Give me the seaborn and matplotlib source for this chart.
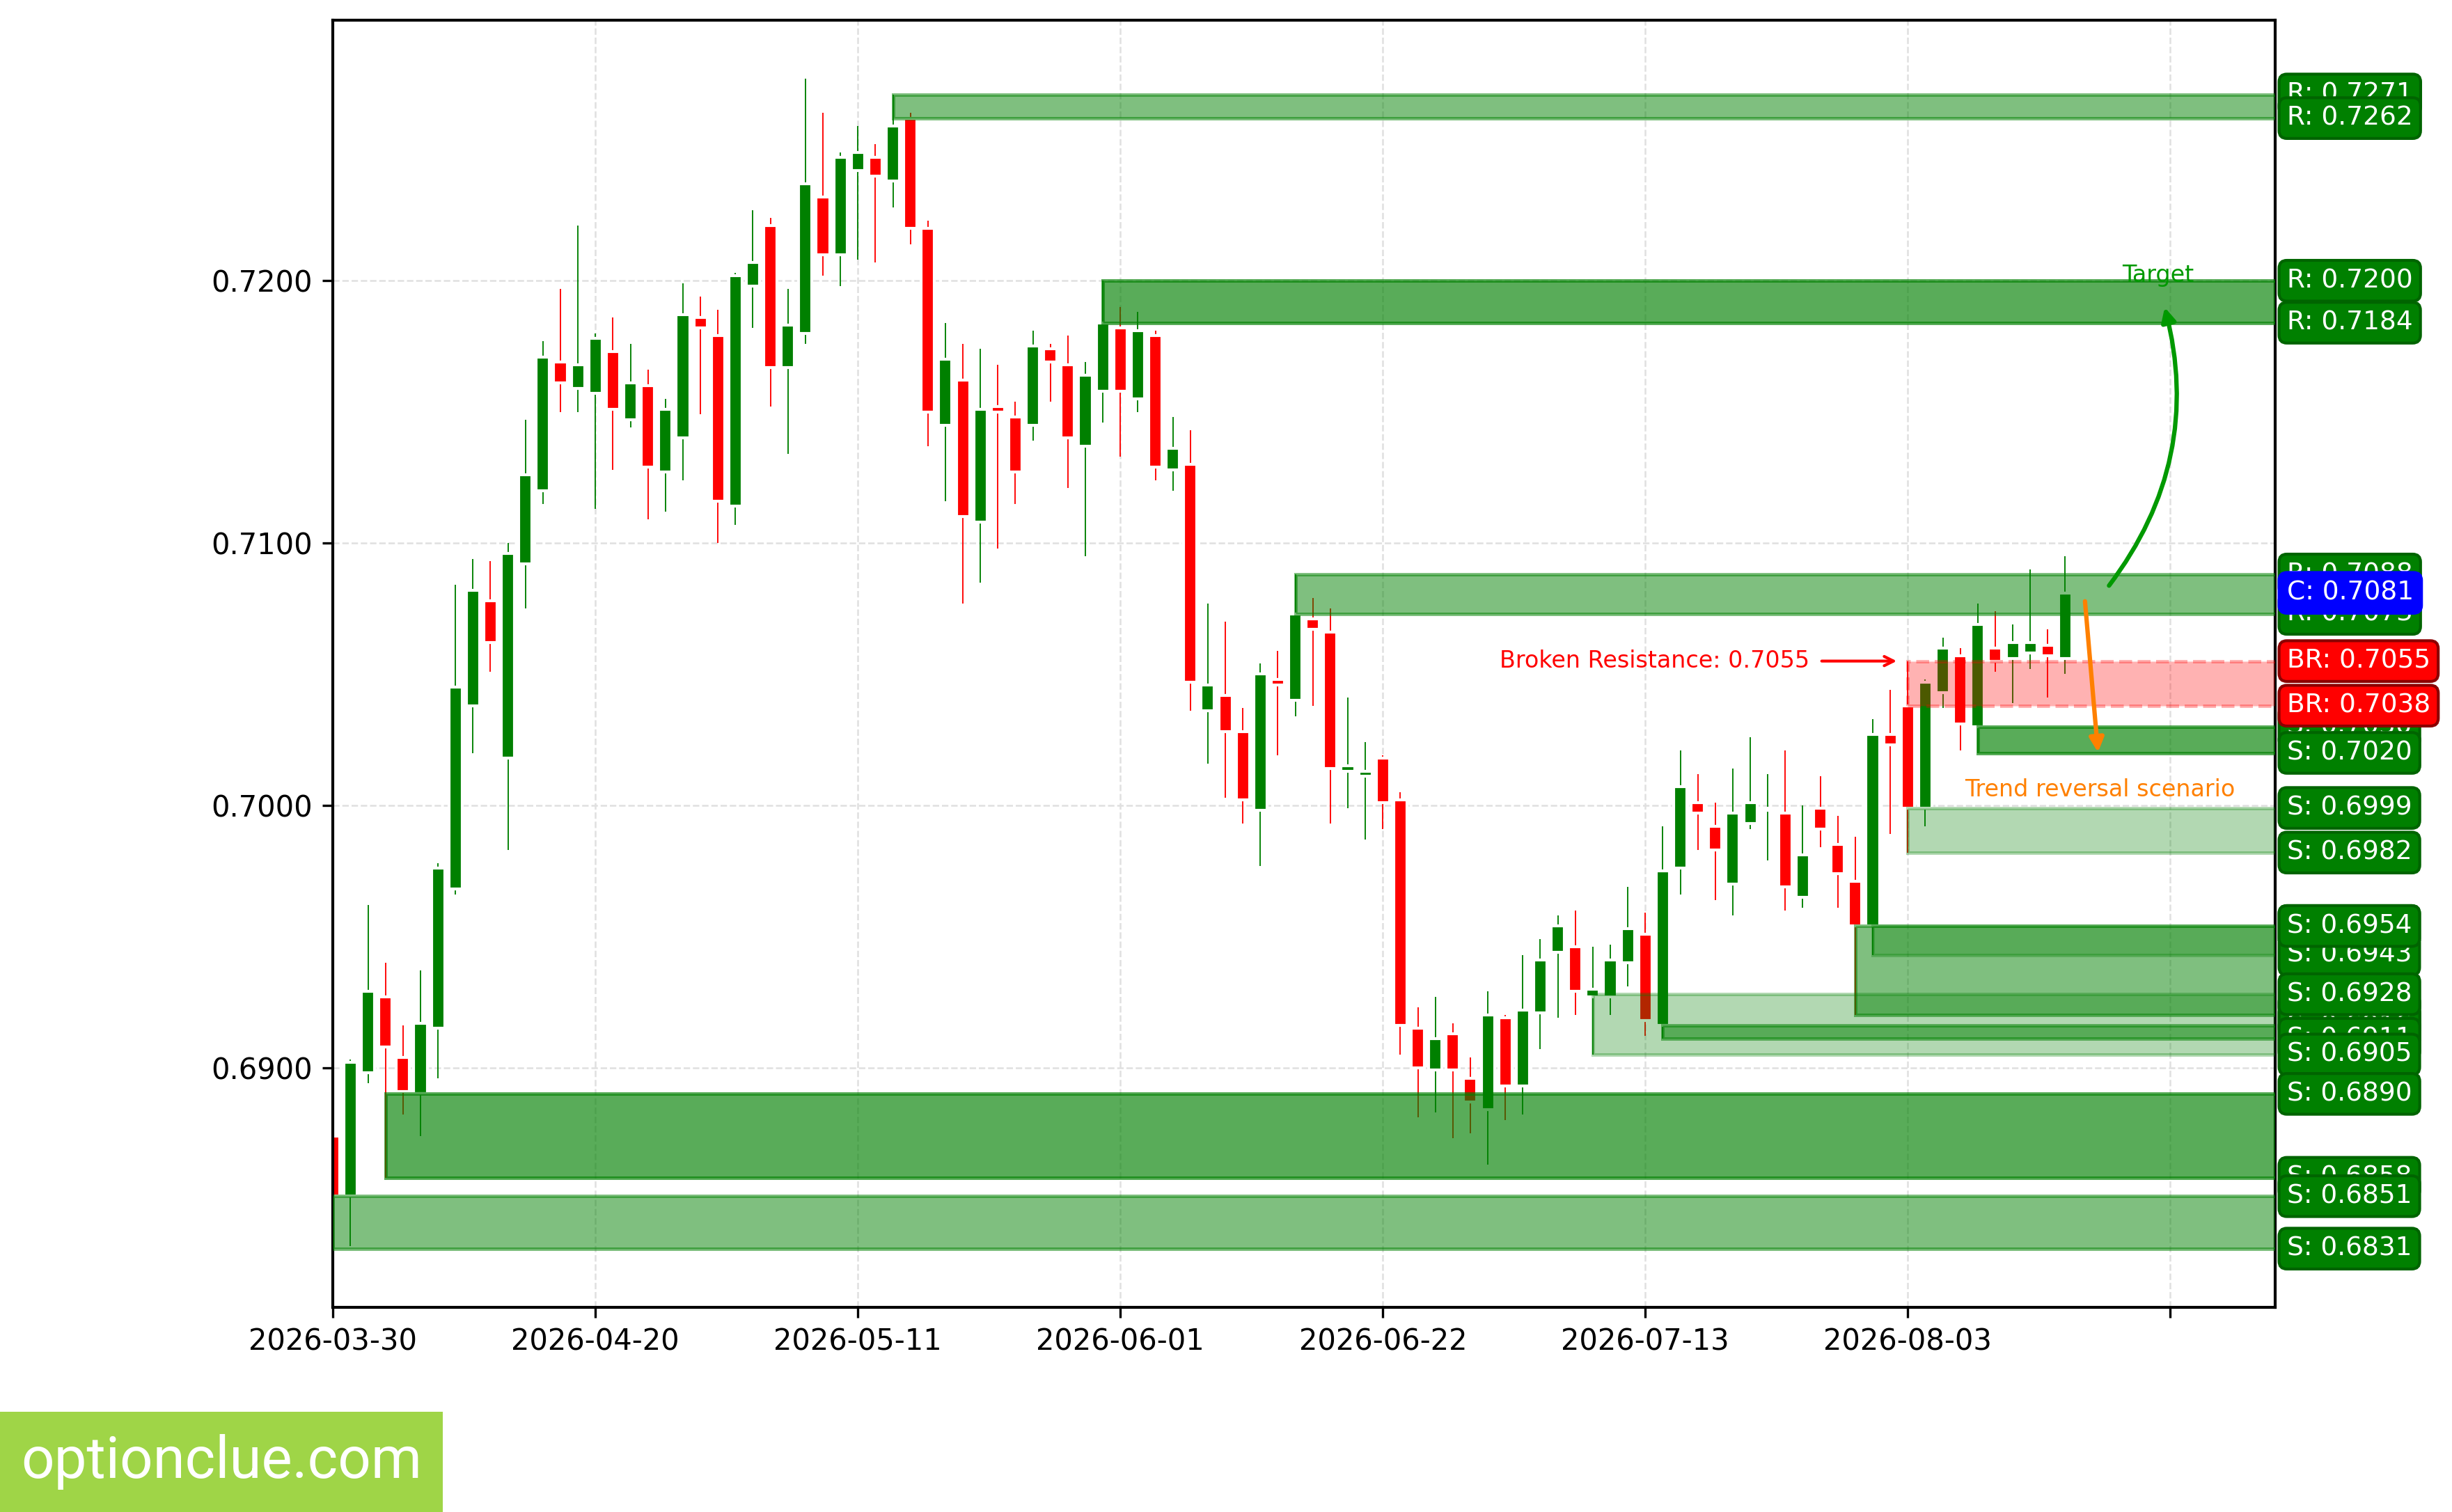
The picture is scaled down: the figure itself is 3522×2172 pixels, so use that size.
import numpy as np
import pandas as pd
import matplotlib
matplotlib.use('Agg')
import matplotlib.pyplot as plt
import matplotlib.transforms as mtransforms
from matplotlib.patches import Rectangle
from matplotlib.ticker import MultipleLocator, FormatStrFormatter
import seaborn as sns

# Daily candles, one per business day starting 2026-03-30
start_date = '2026-03-30'
opens = [0.6874, 0.6851, 0.6898, 0.6927, 0.6904, 0.6890, 0.6915, 0.6968, 0.7038, 0.7078,
         0.7018, 0.7092, 0.7120, 0.7169, 0.7159, 0.7157, 0.7173, 0.7147, 0.7160, 0.7127,
         0.7140, 0.7186, 0.7179, 0.7114, 0.7198, 0.7221, 0.7167, 0.7180, 0.7232, 0.7210,
         0.7242, 0.7247, 0.7238, 0.7262, 0.7220, 0.7145, 0.7162, 0.7108, 0.7152, 0.7148,
         0.7145, 0.7174, 0.7168, 0.7137, 0.7158, 0.7182, 0.7155, 0.7179, 0.7128, 0.7130,
         0.7036, 0.7042, 0.7028, 0.6998, 0.7048, 0.7040, 0.7071, 0.7066, 0.7013, 0.7011,
         0.7018, 0.7002, 0.6915, 0.6899, 0.6913, 0.6896, 0.6884, 0.6919, 0.6893, 0.6921,
         0.6944, 0.6946, 0.6927, 0.6927, 0.6940, 0.6951, 0.6916, 0.6976, 0.7001, 0.6992,
         0.6970, 0.6993, 0.6998, 0.6997, 0.6965, 0.6999, 0.6985, 0.6971, 0.6954, 0.7027,
         0.7038, 0.6999, 0.7043, 0.7057, 0.7030, 0.7060, 0.7056, 0.7058, 0.7061, 0.7056]
highs = [0.6876, 0.6903, 0.6962, 0.6940, 0.6916, 0.6937, 0.6978, 0.7084, 0.7094, 0.7093,
         0.7100, 0.7147, 0.7177, 0.7197, 0.7221, 0.7180, 0.7186, 0.7176, 0.7166, 0.7155,
         0.7199, 0.7194, 0.7189, 0.7203, 0.7227, 0.7224, 0.7197, 0.7277, 0.7264, 0.7249,
         0.7259, 0.7252, 0.7271, 0.7264, 0.7223, 0.7184, 0.7176, 0.7174, 0.7168, 0.7154,
         0.7181, 0.7176, 0.7179, 0.7169, 0.7200, 0.7190, 0.7188, 0.7181, 0.7148, 0.7143,
         0.7077, 0.7070, 0.7037, 0.7054, 0.7059, 0.7088, 0.7079, 0.7075, 0.7041, 0.7024,
         0.7019, 0.7005, 0.6923, 0.6927, 0.6917, 0.6904, 0.6929, 0.6920, 0.6943, 0.6949,
         0.6958, 0.6960, 0.6946, 0.6947, 0.6969, 0.6959, 0.6992, 0.7021, 0.7012, 0.7001,
         0.7014, 0.7026, 0.7012, 0.7021, 0.7000, 0.7011, 0.6996, 0.6988, 0.7033, 0.7044,
         0.7055, 0.7048, 0.7064, 0.7060, 0.7077, 0.7074, 0.7069, 0.7090, 0.7067, 0.7095]
lows = [0.6831, 0.6832, 0.6894, 0.6858, 0.6882, 0.6874, 0.6896, 0.6966, 0.7020, 0.7051,
        0.6983, 0.7075, 0.7115, 0.7150, 0.7150, 0.7113, 0.7128, 0.7144, 0.7109, 0.7112,
        0.7124, 0.7149, 0.7100, 0.7107, 0.7182, 0.7152, 0.7134, 0.7176, 0.7202, 0.7198,
        0.7208, 0.7207, 0.7228, 0.7214, 0.7137, 0.7116, 0.7077, 0.7085, 0.7098, 0.7115,
        0.7139, 0.7154, 0.7121, 0.7095, 0.7146, 0.7133, 0.7150, 0.7124, 0.7120, 0.7036,
        0.7016, 0.7003, 0.6993, 0.6977, 0.7019, 0.7034, 0.7038, 0.6993, 0.6999, 0.6987,
        0.6991, 0.6905, 0.6881, 0.6883, 0.6873, 0.6875, 0.6863, 0.6880, 0.6882, 0.6907,
        0.6919, 0.6920, 0.6905, 0.6920, 0.6931, 0.6912, 0.6911, 0.6966, 0.6983, 0.6964,
        0.6958, 0.6991, 0.6979, 0.6960, 0.6961, 0.6984, 0.6961, 0.6920, 0.6943, 0.6989,
        0.6982, 0.6992, 0.7037, 0.7021, 0.7020, 0.7051, 0.7039, 0.7052, 0.7041, 0.7050]
closes = [0.6851, 0.6902, 0.6929, 0.6908, 0.6891, 0.6917, 0.6976, 0.7045, 0.7082, 0.7062,
          0.7096, 0.7126, 0.7171, 0.7161, 0.7168, 0.7178, 0.7151, 0.7161, 0.7129, 0.7151,
          0.7187, 0.7182, 0.7116, 0.7202, 0.7207, 0.7167, 0.7183, 0.7237, 0.7210, 0.7247,
          0.7249, 0.7240, 0.7259, 0.7220, 0.7150, 0.7170, 0.7110, 0.7151, 0.7150, 0.7127,
          0.7175, 0.7169, 0.7140, 0.7164, 0.7184, 0.7158, 0.7181, 0.7129, 0.7136, 0.7047,
          0.7046, 0.7028, 0.7002, 0.7050, 0.7046, 0.7073, 0.7067, 0.7014, 0.7015, 0.7013,
          0.7001, 0.6916, 0.6900, 0.6911, 0.6899, 0.6887, 0.6920, 0.6893, 0.6922, 0.6941,
          0.6954, 0.6929, 0.6930, 0.6941, 0.6953, 0.6918, 0.6975, 0.7007, 0.6997, 0.6983,
          0.6997, 0.7001, 0.6999, 0.6969, 0.6981, 0.6991, 0.6974, 0.6954, 0.7027, 0.7023,
          0.6999, 0.7047, 0.7060, 0.7031, 0.7069, 0.7055, 0.7062, 0.7062, 0.7057, 0.7081]

# resistance zones (start candle, top, bottom, strength)
res_start = [32, 44, 55]
res_top = [0.7271, 0.7200, 0.7088]
res_bottom = [0.7262, 0.7184, 0.7073]
res_strength = [2, 3, 2]

# support zones
sup_start = [94, 90, 88, 87, 76, 72, 3, 0]
sup_top = [0.7030, 0.6999, 0.6954, 0.6954, 0.6916, 0.6928, 0.6890, 0.6851]
sup_bottom = [0.7020, 0.6982, 0.6943, 0.6920, 0.6911, 0.6905, 0.6858, 0.6831]
sup_strength = [3, 1, 1, 2, 2, 1, 3, 2]

# broken resistance zone and current price
br_start = 90
br_top = 0.7055
br_bottom = 0.7038
current_price = 0.7081

sns.set_style('ticks')
plt.rcParams['font.family'] = ['DejaVu Sans']
plt.rcParams.update({'xtick.labelsize': 10, 'ytick.labelsize': 10,
                     'axes.edgecolor': 'black', 'xtick.color': 'black', 'ytick.color': 'black'})

df = pd.DataFrame({'Open': opens, 'High': highs, 'Low': lows, 'Close': closes})
df['Date'] = pd.bdate_range(start_date, periods=len(df))
idx = np.arange(len(df))
colors = np.where(df['Close'] >= df['Open'], 'green', 'red')

fig = plt.figure(figsize=(11.74, 7.24), dpi=300)
ax = fig.add_axes([0.1358, 0.1355, 0.7921, 0.8511])

# candles
ax.vlines(idx, df['Low'], df['High'], colors=colors, lw=0.45, zorder=2)
body = (df['Close'] - df['Open']).abs().clip(lower=0.00008)
ax.bar(idx, body, bottom=np.minimum(df['Open'], df['Close']), width=0.76,
       color=colors, zorder=2.1)

x_end = len(df) + 11
lo, hi = df['Low'].min(), df['High'].max()
pad = 0.05 * (hi - lo)
ax.set_xlim(0, x_end)
ax.set_ylim(lo - pad, hi + pad)

alpha_by_strength = {1: 0.3, 2: 0.5, 3: 0.65}
lab_tr = mtransforms.blended_transform_factory(ax.transAxes, ax.transData)


def side_label(y, text, fc, ec):
    ax.text(1.006, y, text, transform=lab_tr, ha='left', va='center', fontsize=9,
            color='white', zorder=8,
            bbox=dict(boxstyle='round,pad=0.3', fc=fc, ec=ec, lw=1))


def zone(s, t, b, k, prefix):
    ax.add_patch(Rectangle((s, b), x_end - s + 1, t - b, facecolor='green',
                           edgecolor='green', alpha=alpha_by_strength[k], lw=1.2, zorder=3))
    side_label(t, f'{prefix}: {t:.4f}', 'green', 'darkgreen')
    side_label(b, f'{prefix}: {b:.4f}', 'green', 'darkgreen')


for s, t, b, k in zip(res_start, res_top, res_bottom, res_strength):
    zone(s, t, b, k, 'R')
for s, t, b, k in zip(sup_start, sup_top, sup_bottom, sup_strength):
    zone(s, t, b, k, 'S')

ax.add_patch(Rectangle((br_start, br_bottom), x_end - br_start + 1, br_top - br_bottom,
                       facecolor='red', edgecolor='red', alpha=0.3, lw=1.2, ls='--', zorder=3))
side_label(br_top, f'BR: {br_top:.4f}', 'red', 'darkred')
side_label(br_bottom, f'BR: {br_bottom:.4f}', 'red', 'darkred')
side_label(current_price, f'C: {current_price:.4f}', 'blue', 'blue')

# annotations
last = len(df) - 1
ax.annotate(f'Broken Resistance: {br_top:.4f}', xy=(br_start - 0.3, br_top),
            xytext=(br_start - 5.6, br_top), color='red', fontsize=8,
            ha='right', va='center', zorder=7,
            arrowprops=dict(arrowstyle='->', color='red', lw=1.0))

target = (res_top[1] + res_bottom[1]) / 2
ax.annotate('', xy=(last + 5.6, target), xytext=(last + 2.3, current_price + 0.0001),
            zorder=7, arrowprops=dict(arrowstyle='-|>', color='#009900', lw=1.5,
                                      mutation_scale=10,
                                      connectionstyle='arc3,rad=0.25'))
ax.text(last + 5.3, res_top[1] + 0.0002, 'Target', color='#009900', fontsize=8,
        ha='center', va='center', zorder=7)

ax.annotate('', xy=(last + 1.9, sup_bottom[0] - 0.0002), xytext=(last + 1.1, current_price - 0.0001),
            zorder=7, arrowprops=dict(arrowstyle='-|>', color='#ff8000', lw=1.5,
                                      mutation_scale=10))
ax.text(last + 2.0, 0.7006, 'Trend reversal scenario', color='#ff8000', fontsize=8,
        ha='center', va='center', zorder=7)

# axes styling
ticks = np.arange(0, x_end, 15)
ax.set_xticks(ticks)
ax.set_xticklabels([df['Date'][i].strftime('%Y-%m-%d') if i < len(df) else '' for i in ticks])
ax.yaxis.set_major_locator(MultipleLocator(0.01))
ax.yaxis.set_major_formatter(FormatStrFormatter('%.4f'))
ax.set_axisbelow(True)
ax.grid(True, ls='--', color='0.88', lw=0.6)
for sp in ax.spines.values():
    sp.set_visible(True)
    sp.set_linewidth(1.0)
    sp.set_color('black')

# watermark
fig.patches.append(Rectangle((0, 0), 0.1805, 0.0662, transform=fig.transFigure,
                             facecolor='#9fd547', edgecolor='none'))
fig.text(0.0903, 0.033, 'optionclue.com', ha='center', va='center', color='white',
         fontsize=20, family='Roboto')

fig.savefig('out.png', dpi=300)
